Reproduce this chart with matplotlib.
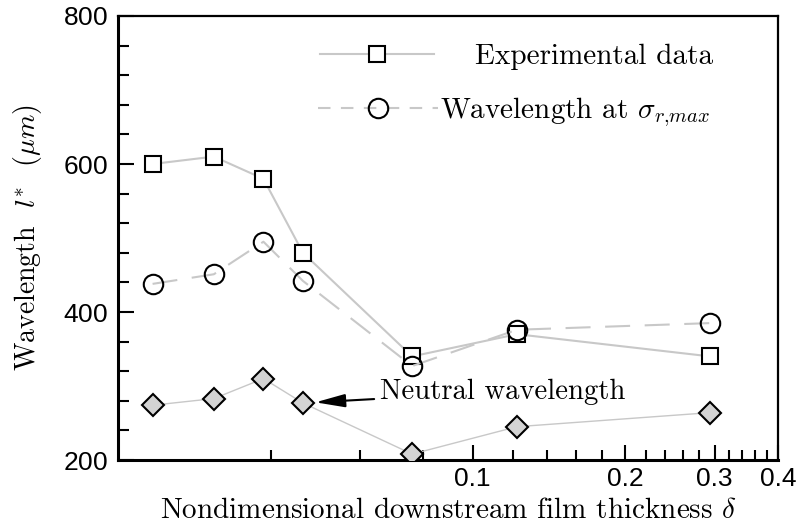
import matplotlib
matplotlib.use("Agg")
import matplotlib.pyplot as plt
from matplotlib.lines import Line2D
from matplotlib.ticker import FixedLocator, NullFormatter, FixedFormatter

plt.rcParams['font.family'] = 'serif'
plt.rcParams['font.serif'] = ['cmr10', 'DejaVu Serif']
plt.rcParams['mathtext.fontset'] = 'cm'
plt.rcParams['axes.formatter.use_mathtext'] = True

# ---- data ----
delta = [0.0234, 0.0309, 0.0387, 0.0463, 0.0760, 0.1223, 0.294]
experimental = [600, 610, 580, 480, 340, 370, 340]
sigma_max = [438, 451, 495, 442, 327, 376, 385]
neutral = [274, 283, 310, 277, 208, 245, 264]

x_major = [0.1, 0.2, 0.3, 0.4]
x_major_labels = ["0.1", "0.2", "0.3", "0.4"]
x_minor = [0.04, 0.06, 0.08, 0.12, 0.14, 0.16, 0.18, 0.22, 0.24, 0.26, 0.28,
           0.32, 0.34, 0.36, 0.38]
y_major = [200, 400, 600, 800]
y_minor = [240, 280, 320, 360, 440, 480, 520, 560, 640, 680, 720, 760]

line_gray = '#c8c8c8'

fig = plt.figure(figsize=(8, 5.26), dpi=100)
ax = fig.add_axes([118/800, 1-460/526, (778-118)/800, (460-16)/526])

ax.plot(delta, experimental, color=line_gray, lw=1.5, marker='s', ms=11.5,
        mfc='white', mec='black', mew=1.5, zorder=3)
ax.plot(delta, sigma_max, color=line_gray, lw=1.5, dashes=(12, 7), marker='o',
        ms=14, mfc='none', mec='black', mew=1.5, zorder=3)
ax.plot(delta, neutral, color=line_gray, lw=1.0, marker='D', ms=11.5,
        mfc='#d3d3d3', mec='black', mew=1.5, zorder=3)

ax.set_xscale('log')
ax.set_xlim(0.02, 0.4)
ax.set_ylim(200, 800)

ax.xaxis.set_major_locator(FixedLocator(x_major))
ax.xaxis.set_major_formatter(FixedFormatter(x_major_labels))
ax.xaxis.set_minor_locator(FixedLocator(x_minor))
ax.xaxis.set_minor_formatter(NullFormatter())
ax.yaxis.set_major_locator(FixedLocator(y_major))
ax.yaxis.set_minor_locator(FixedLocator(y_minor))

ax.tick_params(which='both', direction='in', top=False, right=False, width=1.5)
ax.tick_params(axis='x', which='major', length=11, pad=5)
ax.tick_params(axis='x', which='minor', length=7)
ax.tick_params(axis='y', which='major', length=11.5, pad=7)
ax.tick_params(axis='y', which='minor', length=8)
for lab in ax.get_xticklabels() + ax.get_yticklabels():
    lab.set_family('Liberation Sans')
    lab.set_fontsize(19)

for s in ['left', 'bottom']:
    ax.spines[s].set_linewidth(2.2)
for s in ['top', 'right']:
    ax.spines[s].set_linewidth(1.6)

ax.set_xlabel(r"Nondimensional downstream film thickness $\delta$", fontsize=21, labelpad=5)
ax.set_ylabel(r"Wavelength  $l^{*}$  $(\mu m)$", fontsize=20, labelpad=14)

# annotation
ax.annotate("Neutral wavelength", xy=(delta[3], neutral[3]), xytext=(0.0656, 292),
            textcoords='data', ha='left', va='center', fontsize=20.7,
            arrowprops=dict(arrowstyle='-|>,head_length=0.9,head_width=0.2',
                            color='black', lw=1.5, shrinkA=2, shrinkB=9,
                            mutation_scale=20))

# legends
h1 = Line2D([], [], color=line_gray, lw=1.5, marker='s', ms=11.5, mfc='white',
            mec='black', mew=1.5)
h2 = Line2D([], [], color=line_gray, lw=1.5, dashes=(6, 5), marker='o', ms=14,
            mfc='none', mec='black', mew=1.5)
leg1 = ax.legend([h1], ["Experimental data"], loc='center left',
                 bbox_to_anchor=(320/800, 1-57/526), bbox_transform=fig.transFigure,
                 frameon=False, borderpad=0, borderaxespad=0, numpoints=1,
                 handlelength=3.9, handletextpad=1.4, fontsize=21)
ax.add_artist(leg1)
leg2 = ax.legend([h2], [r"Wavelength at $\sigma_{r{,}max}$"], loc='center left',
                 bbox_to_anchor=(318/800, 1-112/526), bbox_transform=fig.transFigure,
                 frameon=False, borderpad=0, borderaxespad=0, numpoints=1,
                 handlelength=4.1, handletextpad=0.07, fontsize=21)

fig.savefig("out.png", dpi=100)
